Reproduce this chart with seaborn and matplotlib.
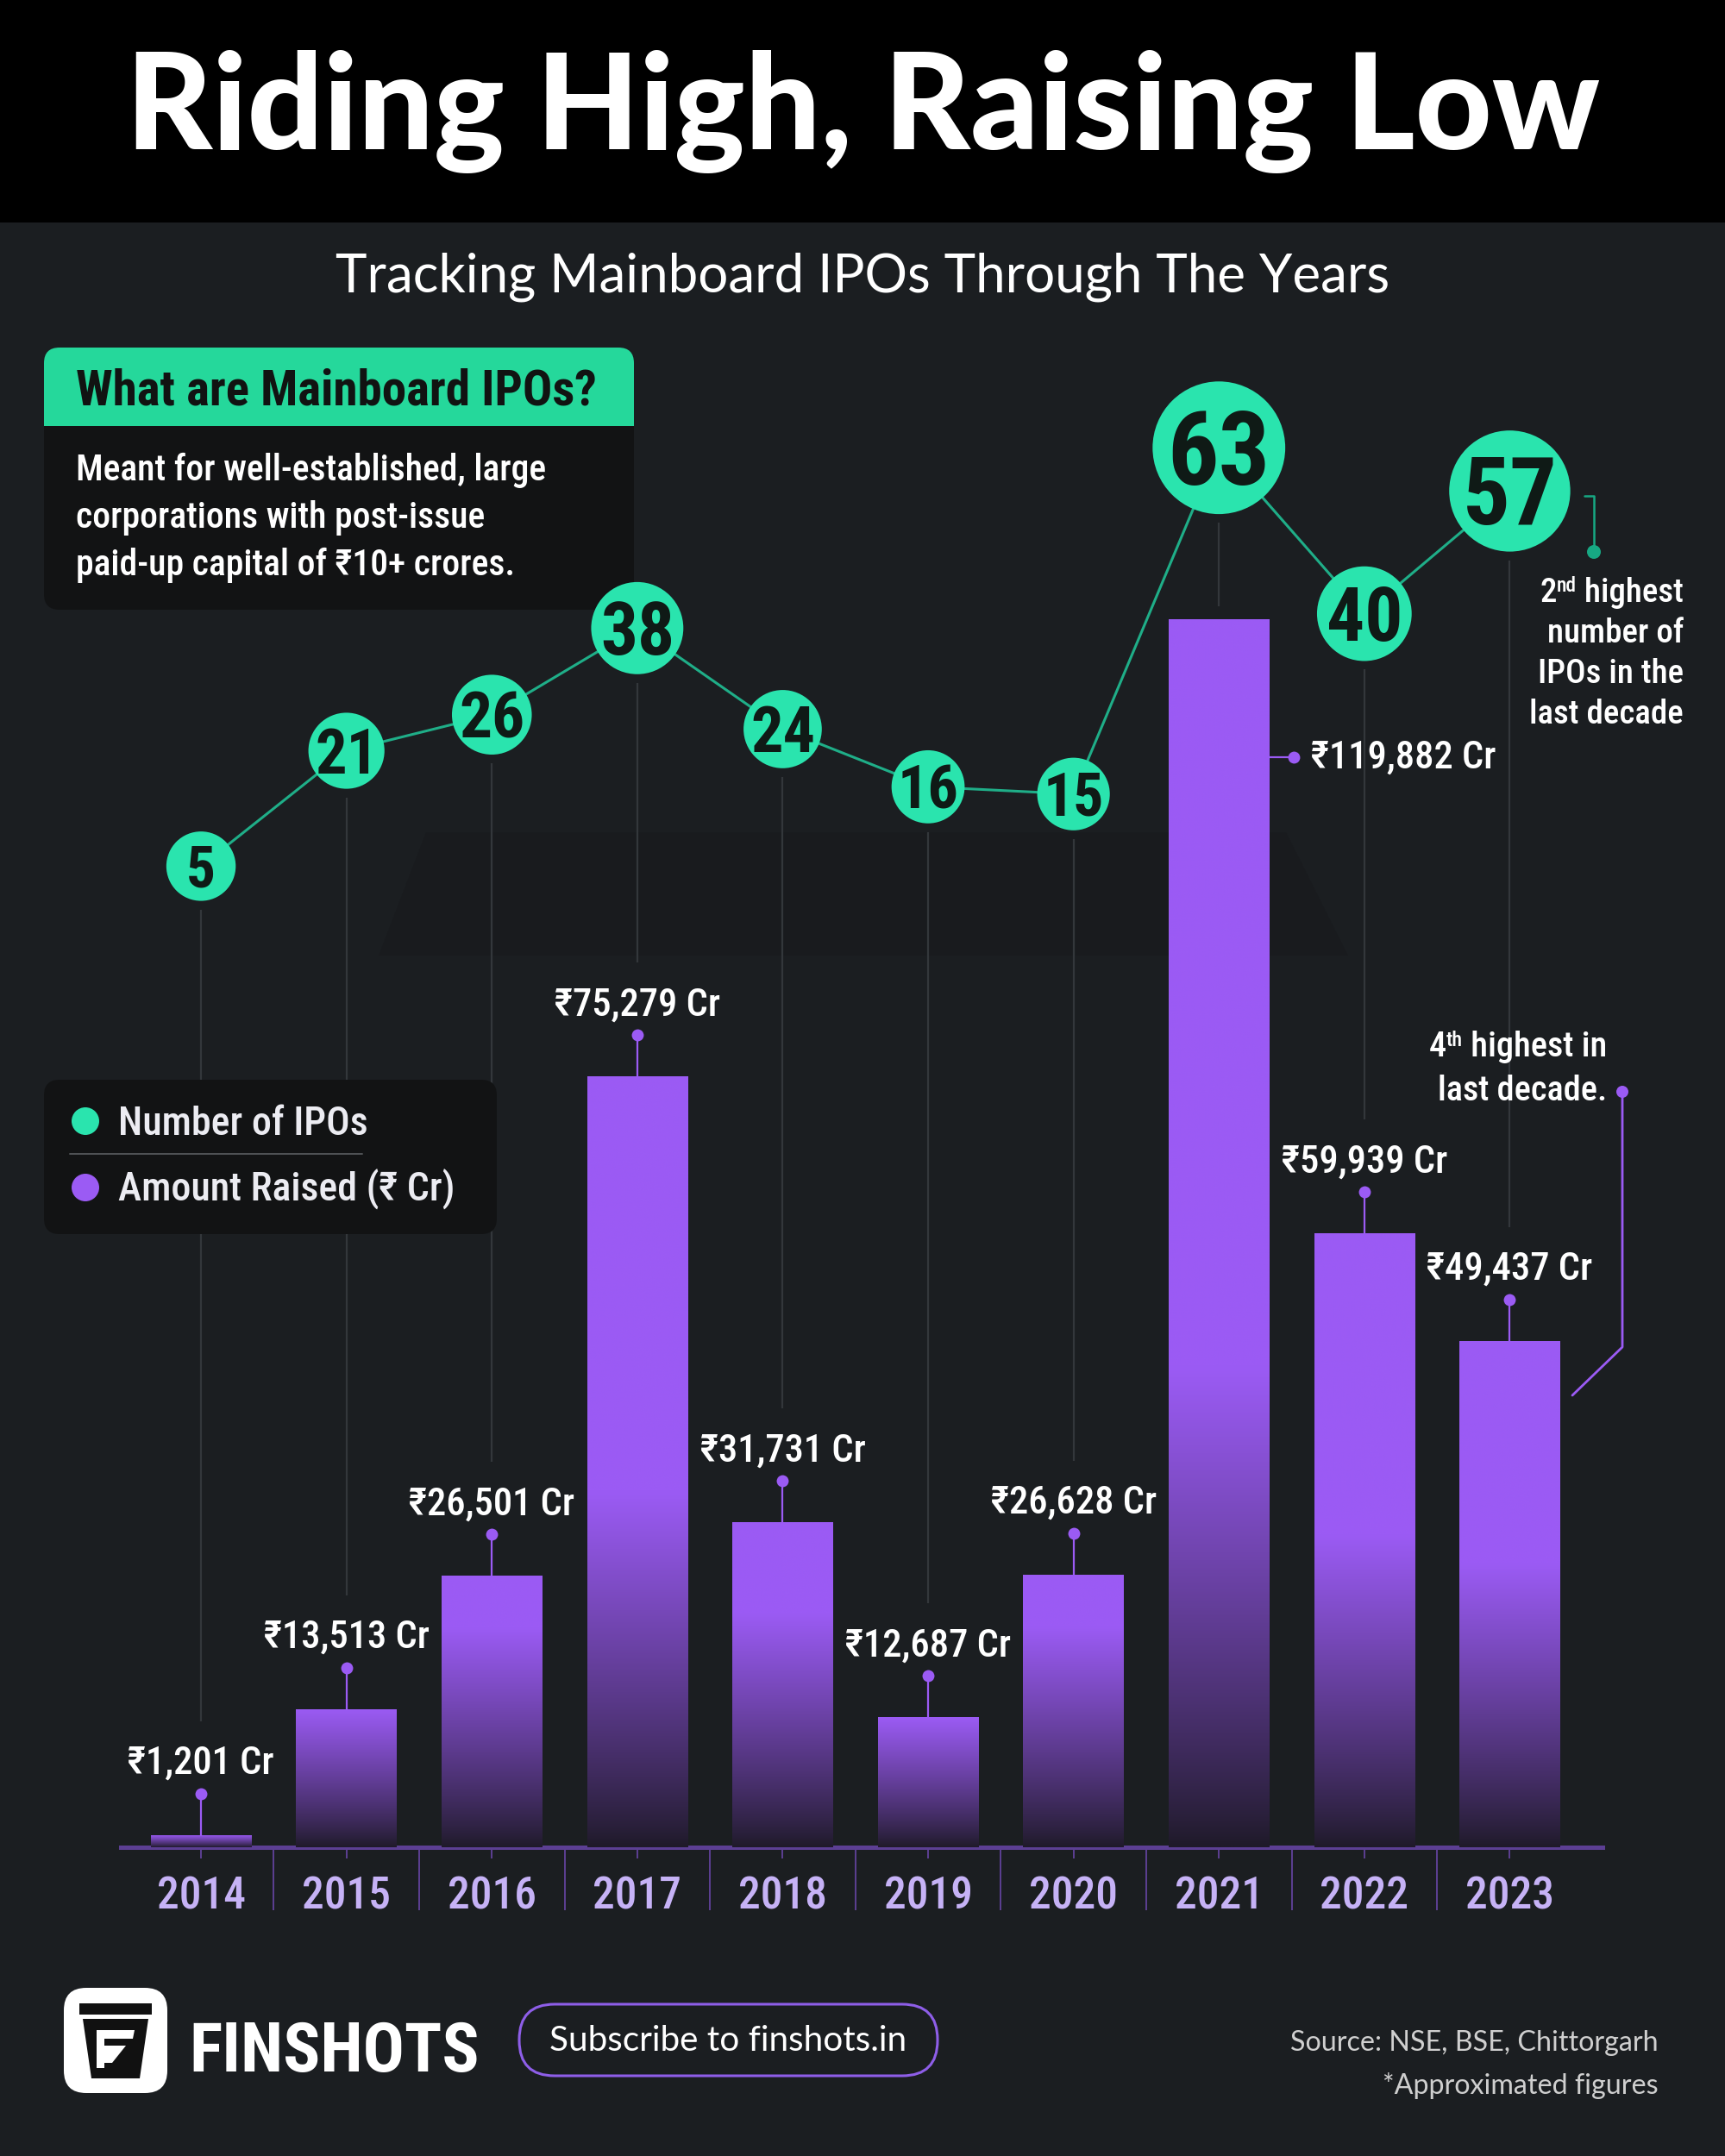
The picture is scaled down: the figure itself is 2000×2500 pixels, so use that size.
import os
import numpy as np
import matplotlib
matplotlib.use("Agg")
import matplotlib.pyplot as plt
import matplotlib.transforms as mtransforms
from matplotlib.patches import FancyBboxPatch, Rectangle, Polygon
from matplotlib import font_manager as fm
from matplotlib.ft2font import FT2Font
import seaborn as sns

# ---------------- data ----------------
YEARS = ["2014", "2015", "2016", "2017", "2018", "2019", "2020", "2021", "2022", "2023"]
AMOUNT_CR = [1201, 13513, 26501, 75279, 31731, 12687, 26628, 119882, 59939, 49437]
IPO_COUNT = [5, 21, 26, 38, 24, 16, 15, 63, 40, 57]
SIDE_LABEL_YEAR = "2021"

TITLE = "Riding High, Raising Low"
SUBTITLE = "Tracking Mainboard IPOs Through The Years"
BOX_TITLE = "What are Mainboard IPOs?"
BOX_LINES = ["Meant for well-established, large",
             "corporations with post-issue",
             "paid-up capital of ₹10+ crores."]
LEGEND_LABELS = ["Number of IPOs", "Amount Raised (₹ Cr)"]
NOTE_COUNT_FIRST = ("2", "nd", " highest")
NOTE_COUNT_REST = ["number of", "IPOs in the", "last decade"]
NOTE_AMOUNT_FIRST = ("4", "th", " highest in")
NOTE_AMOUNT_REST = ["last decade."]
SOURCE_LINES = ["Source: NSE, BSE, Chittorgarh", "*Approximated figures"]
BRAND = "FINSHOTS"
CTA = "Subscribe to finshots.in"

# ---------------- style ----------------
BG = "#1b1e21"
BOX_BG = "#121314"
GREEN = "#25d89b"
TEAL = "#2ae4ae"
TEAL_LINE = "#1fae88"
PURPLE = "#9b5bf4"
PURPLE_DARK = "#1f1a29"
LAVENDER = "#c6b2f6"
AXIS_PURPLE = "#5c3f93"
GUIDE = "#33373b"

sns.set_theme(style="white")
plt.rcParams["font.family"] = ["Lato", "DejaVu Sans"]

ALL_FONTS = sorted({f.fname for f in fm.fontManager.ttflist})


def _bn(p):
    return os.path.basename(p).lower()


def rupee_ok(p):
    try:
        return 0x20B9 in FT2Font(p).get_charmap()
    except Exception:
        return False


def choose(pref, must, banned, fallback):
    for name in pref:
        for p in ALL_FONTS:
            if _bn(p) == name.lower() and rupee_ok(p):
                return p
    for p in ALL_FONTS:
        b = _bn(p)
        if all(t in b for t in must) and not any(t in b for t in banned) and rupee_ok(p):
            return p
    for name in fallback:
        for p in ALL_FONTS:
            if _bn(p) == name.lower() and rupee_ok(p):
                return p
    return fm.findfont("DejaVu Sans")


COND_REG = choose(
    ["RobotoCondensed-Medium.ttf", "RobotoCondensed-Regular.ttf", "NotoSans-CondensedMedium.ttf",
     "NotoSans-Condensed.ttf", "OpenSans-CondensedMedium.ttf", "DejaVuSansCondensed.ttf",
     "LiberationSansNarrow-Regular.ttf"],
    ["condensed"], ["bold", "black", "light", "thin", "extra", "ultra", "semi", "italic", "oblique"],
    ["Roboto-Medium.ttf", "Roboto-Regular.ttf", "NotoSans-Medium.ttf", "NotoSans-Regular.ttf", "DejaVuSans.ttf"])
COND_BOLD = choose(
    ["RobotoCondensed-Bold.ttf", "NotoSans-CondensedBold.ttf", "OpenSans-CondensedBold.ttf",
     "DejaVuSansCondensed-Bold.ttf", "LiberationSansNarrow-Bold.ttf"],
    ["condensed", "bold"], ["extra", "ultra", "semi", "italic", "oblique"],
    ["Roboto-Bold.ttf", "NotoSans-Bold.ttf", "DejaVuSans-Bold.ttf"])


def FR(size):
    return fm.FontProperties(fname=COND_REG, size=size)


def FB(size):
    return fm.FontProperties(fname=COND_BOLD, size=size)


def FG(size, weight="normal"):
    return fm.FontProperties(family=["Lato", "DejaVu Sans"], weight=weight, size=size)


# ---------------- layout (pixels) ----------------
W, H = 2000, 2500
AX_L, AX_R, AX_B, AX_T = 140, 1858, 2142, 400
W_PX, H_PX = AX_R - AX_L, AX_B - AX_T
XL, XR = -0.552, 9.638
YMAX = 146700
C_LO, C_HI = -131.0, 77.25
BAR_W = 0.69
LABEL_SIZE = 32

fig = plt.figure(figsize=(W / 100, H / 100), dpi=100, facecolor=BG)
renderer = fig.canvas.get_renderer()

# background layer
ax_bg = fig.add_axes([0, 0, 1, 1])
ax_bg.set_xlim(0, W)
ax_bg.set_ylim(H, 0)
ax_bg.axis("off")
ax_bg.add_patch(Rectangle((0, 0), W, 258, color="#000000", lw=0))
ax_bg.add_patch(Polygon([(494, 965), (1491, 965), (1563, 1108), (439, 1108)], closed=True,
                        color="#191b1e", lw=0))
# info box
ax_bg.add_patch(FancyBboxPatch((51, 494), 684, 213, boxstyle="round,pad=0,rounding_size=18",
                               fc=BOX_BG, ec="none"))
ax_bg.add_patch(Rectangle((51, 494), 684, 30, fc=BOX_BG, ec="none"))
ax_bg.add_patch(FancyBboxPatch((51, 403), 684, 91, boxstyle="round,pad=0,rounding_size=18",
                               fc=GREEN, ec="none"))
ax_bg.add_patch(Rectangle((51, 470), 684, 24, fc=GREEN, ec="none"))
ax_bg.text(88, 469, BOX_TITLE, fontproperties=FB(41), color="#111312", ha="left", va="baseline")
for k, line in enumerate(BOX_LINES):
    ax_bg.text(88, 557 + 55 * k, line, fontproperties=FR(30), color="white", ha="left",
               va="baseline")

# main axes
ax = fig.add_axes([AX_L / W, 1 - AX_B / H, W_PX / W, H_PX / H])
ax.set_facecolor("none")
sns.barplot(x=YEARS, y=AMOUNT_CR, ax=ax, color=PURPLE, width=BAR_W, saturation=1,
            errorbar=None, zorder=3, linewidth=0, edgecolor="none")

top_rgb = np.array(matplotlib.colors.to_rgb(PURPLE))
bot_rgb = np.array(matplotlib.colors.to_rgb(PURPLE_DARK))
for p in list(ax.patches):
    x0, w, h = p.get_x(), p.get_width(), p.get_height()
    hpx = h * H_PX / YMAX
    fade = max(min(hpx, 170 + 0.27 * hpx), 1e-6)
    yy = np.linspace(0, 1, 256) * hpx
    t = np.clip(yy / fade, 0, 1) ** 0.85
    col = bot_rgb + (top_rgb - bot_rgb) * t[:, None]
    im = ax.imshow(col[:, None, :], extent=[x0, x0 + w, 0, h], origin="lower", aspect="auto",
                   interpolation="bilinear", zorder=3.1)
    im.set_clip_path(p)


def amt_px(px):
    return px * YMAX / H_PX


def x_px(px):
    return px * (XR - XL) / W_PX


def count_to_py(c):
    return AX_B - (c - C_LO) / (C_HI - C_LO) * H_PX


def py_to_amt(py):
    return (AX_B - py) / H_PX * YMAX


def radius(c):
    return 40 + 0.0093 * c * c


for i, (yr, v, c) in enumerate(zip(YEARS, AMOUNT_CR, IPO_COUNT)):
    bar_top_py = AX_B - v * H_PX / YMAX
    start = count_to_py(c) + radius(c) + 10
    end = bar_top_py - (15 if yr == SIDE_LABEL_YEAR else 132)
    ax.plot([i, i], [py_to_amt(start), py_to_amt(end)], color=GUIDE, lw=1.6, zorder=1,
            solid_capstyle="butt")
    label = f"₹{v:,} Cr"
    if yr == SIDE_LABEL_YEAR:
        xe = i + BAR_W / 2
        xd = xe + x_px(29)
        yl = v - amt_px(160)
        ax.plot([xe, xd], [yl, yl], color=PURPLE, lw=1.6, zorder=4)
        ax.plot([xd], [yl], "o", ms=10, color=PURPLE, mec="none", zorder=5)
        ax.text(xd + x_px(20), yl, label, fontproperties=FR(LABEL_SIZE), color="white",
                ha="left", va="center", zorder=5)
    else:
        yd = v + amt_px(48)
        ax.plot([i, i], [v, yd], color=PURPLE, lw=1.6, zorder=4)
        ax.plot([i], [yd], "o", ms=10, color=PURPLE, mec="none", zorder=5, clip_on=False)
        ax.text(i, v + amt_px(71), label, fontproperties=FR(LABEL_SIZE), color="white",
                ha="center", va="baseline", zorder=5)

ax.set_xlim(XL, XR)
ax.set_ylim(0, YMAX)
ax.set_yticks([])
ax.set_xlabel("")
ax.set_ylabel("")
for s in ["top", "left", "right"]:
    ax.spines[s].set_visible(False)
ax.spines["bottom"].set_color(AXIS_PURPLE)
ax.spines["bottom"].set_linewidth(3.6)
ax.set_xticks(range(len(YEARS)))
ax.set_xticklabels(YEARS)
ax.tick_params(axis="x", length=9.5, width=1.4, color=AXIS_PURPLE, labelcolor=LAVENDER, pad=14,
               bottom=True)
for lbl in ax.get_xticklabels():
    lbl.set_fontproperties(FR(37))
trans = mtransforms.blended_transform_factory(ax.transData, ax.transAxes)
ax.vlines([i + 0.5 for i in range(len(YEARS) - 1)], -73 / H_PX, 0, transform=trans,
          color=AXIS_PURPLE, lw=1.4, clip_on=False, zorder=2)

# count axis
ax2 = ax.twinx()
ax2.set_facecolor("none")
POS = np.arange(len(YEARS))
sns.lineplot(x=POS, y=IPO_COUNT, ax=ax2, color=TEAL_LINE, linewidth=2.2, zorder=2, legend=False)
size_map = {c: (2 * radius(c) * 0.72) ** 2 for c in IPO_COUNT}
sns.scatterplot(x=POS, y=IPO_COUNT, size=IPO_COUNT, sizes=size_map, ax=ax2, color=TEAL,
                edgecolor="none", linewidth=0, legend=False, zorder=4)
for i, c in enumerate(IPO_COUNT):
    h = 8 + radius(c)
    ax2.annotate(str(c), xy=(i, c), xytext=(0, -h / 2), textcoords="offset pixels",
                 ha="center", va="baseline", fontproperties=FB(h), color="#0f1a16", zorder=6)
ax2.set_ylim(C_LO, C_HI)
ax2.set_xlim(XL, XR)
ax2.set_yticks([])
ax2.set_xlabel("")
ax2.set_ylabel("")
for s in ax2.spines.values():
    s.set_visible(False)

# overlay layer
ax_o = fig.add_axes([0, 0, 1, 1])
ax_o.set_xlim(0, W)
ax_o.set_ylim(H, 0)
ax_o.axis("off")
ax_o.patch.set_alpha(0)


def fit_width(t, target):
    for _ in range(3):
        w = t.get_window_extent(renderer).width
        if w > 0:
            t.set_fontsize(t.get_fontsize() * target / w)


t = ax_o.text(1000, 173, TITLE, fontproperties=FG(100, "black"), color="white", ha="center",
              va="baseline")
fit_width(t, 1709)
t = ax_o.text(1000, 338, SUBTITLE, fontproperties=FG(40, "normal"), color="white", ha="center",
              va="baseline")
fit_width(t, 1221)

# legend
ax_o.add_patch(FancyBboxPatch((51, 1252), 525, 179, boxstyle="round,pad=0,rounding_size=18",
                              fc=BOX_BG, ec="none"))
ax_o.scatter([99], [1300], s=(32 * 0.72) ** 2, color=TEAL, edgecolor="none", zorder=3)
ax_o.scatter([99], [1377], s=(32 * 0.72) ** 2, color=PURPLE, edgecolor="none", zorder=3)
ax_o.plot([81, 420], [1338, 1338], color="#505356", lw=1.4)
ax_o.text(137, 1316, LEGEND_LABELS[0], fontproperties=FR(33), color="#ececf2", ha="left",
          va="baseline")
ax_o.text(137, 1393, LEGEND_LABELS[1], fontproperties=FR(33), color="#ececf2", ha="left",
          va="baseline")


def right_pieces(x, y, pieces, size, color="white"):
    base, sup, rest = pieces
    t1 = ax_o.text(x, y, rest, fontproperties=FR(size), color=color, ha="right", va="baseline")
    left = t1.get_window_extent(renderer).x0
    t2 = ax_o.text(left, y - size * 0.42, sup, fontproperties=FR(size * 0.6), color=color,
                   ha="right", va="baseline")
    left = t2.get_window_extent(renderer).x0
    ax_o.text(left, y, base, fontproperties=FR(size), color=color, ha="right", va="baseline")


# annotation for IPO count
ax_o.plot([1837, 1848, 1848], [575, 575, 640], color="#17a883", lw=1.8)
ax_o.scatter([1848], [640], s=(16 * 0.72) ** 2, color="#17a883", edgecolor="none")
right_pieces(1952, 698, NOTE_COUNT_FIRST, 28)
for k, line in enumerate(NOTE_COUNT_REST):
    ax_o.text(1952, 745 + 47 * k, line, fontproperties=FR(28), color="white", ha="right",
              va="baseline")

# annotation for amount
ax_o.plot([1881, 1881, 1823], [1266, 1562, 1618], color=PURPLE, lw=2.0)
ax_o.scatter([1881], [1266], s=(14 * 0.72) ** 2, color=PURPLE, edgecolor="none")
right_pieces(1863, 1225, NOTE_AMOUNT_FIRST, 29)
ax_o.text(1863, 1276, NOTE_AMOUNT_REST[0], fontproperties=FR(29), color="white", ha="right",
          va="baseline")

# footer
ax_o.add_patch(FancyBboxPatch((74, 2305), 120, 122, boxstyle="round,pad=0,rounding_size=26",
                              fc="white", ec="none"))
ax_o.add_patch(Rectangle((92, 2323), 84, 13, fc="#111111", ec="none"))
ax_o.add_patch(Polygon([(96, 2341), (172, 2341), (162, 2410), (106, 2410)], closed=True,
                       fc="#111111", ec="none"))
ax_o.add_patch(Polygon([(112, 2354), (156, 2354), (154, 2364), (112, 2364)], closed=True,
                       fc="white", ec="none"))
ax_o.add_patch(Polygon([(112, 2372), (146, 2372), (130, 2392), (112, 2392)], closed=True,
                       fc="white", ec="none"))
ax_o.add_patch(Polygon([(112, 2354), (121, 2354), (121, 2398), (112, 2398)], closed=True,
                       fc="white", ec="none"))
t = ax_o.text(219, 2402, BRAND, fontproperties=FB(80), color="white", ha="left", va="baseline")
fit_width(t, 336)
ax_o.add_patch(FancyBboxPatch((602, 2324), 485, 83, boxstyle="round,pad=0,rounding_size=41",
                              fc="none", ec="#8e5ee8", lw=2.2))
t = ax_o.text(844.5, 2366, CTA, fontproperties=FG(30), color="white", ha="center", va="center")
fit_width(t, 414)
t1 = ax_o.text(1923, 2369, SOURCE_LINES[0], fontproperties=FG(24), color="#cfcfcf", ha="right",
               va="center")
fit_width(t1, 428)
ax_o.text(1923, 2418, SOURCE_LINES[1], fontproperties=FG(t1.get_fontsize()), color="#cfcfcf",
          ha="right", va="center")

fig.savefig("out.png", dpi=100, facecolor=BG)
